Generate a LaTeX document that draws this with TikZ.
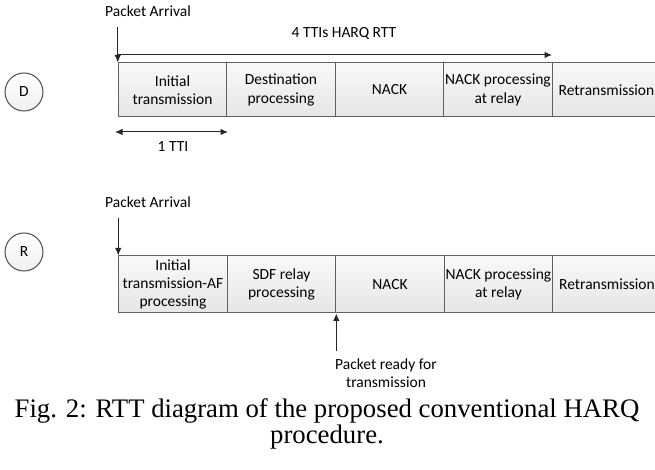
\documentclass[tikz,border=0pt]{standalone}
\usepackage{fontspec}
\setmainfont{Liberation Serif}
\newfontfamily\diagfont{Carlito}
\usetikzlibrary{arrows.meta}

\begin{document}
\begin{tikzpicture}[x=0.4pt, y=-0.4pt,
    slot/.style={draw=gray!75!black, top color=gray!5, bottom color=gray!20, minimum width=43.4pt, minimum height=21.6pt, inner sep=0pt, align=center, font=\diagfont\fontsize{6.2}{7.3}\selectfont},
    tall/.style={slot, minimum height=22.8pt},
    station/.style={circle, draw=gray!60!black, top color=white, bottom color=gray!12, minimum size=15.2pt, inner sep=0pt, font=\diagfont\fontsize{6.2}{7.3}\selectfont},
    lbl/.style={align=center, inner sep=0pt, font=\diagfont\fontsize{6.2}{7.3}\selectfont},
    arr/.style={draw=gray!30!black, line width=0.4pt, -{Latex[length=3pt,width=2.6pt]}},
    dbl/.style={draw=gray!30!black, line width=0.4pt, {Latex[length=3pt,width=2.6pt]}-{Latex[length=3pt,width=2.6pt]}}]

    % Frame
    \clip (0,0) rectangle (655,470);

    % Destination row
    \node[station] (stD) at (24,92) {D};
    \node[lbl] (arrivalD) at (148,11) {Packet Arrival};
    \node[lbl] (rtt) at (344,34) {4 TTIs HARQ RTT};

    \node[slot] (d1) at (172.5,90) {Initial\\transmission};
    \node[slot] (d2) at (281,90) {Destination\\processing};
    \node[slot] (d3) at (389.5,90) {NACK};
    \node[slot] (d4) at (498,90) {NACK processing\\at relay};
    \node[slot] (d5) at (606.5,90) {Retransmission};

    % Arrival and RTT arrows
    \coordinate (rttL) at (118,55);
    \coordinate (rttR) at (552,55);
    \draw[arr] (d1.north west |- arrivalD.south) ++(0,10) -- (d1.north west);
    \draw[arr] (rttL) -- (rttR);

    % One TTI
    \coordinate (ttiL) at (115,132);
    \coordinate (ttiR) at (228,132);
    \draw[dbl] (ttiL) -- (ttiR);
    \node[lbl] (tti) at (173,147) {1 TTI};

    % Relay row
    \node[station] (stR) at (24,252) {R};
    \node[lbl] (arrivalR) at (148,202) {Packet Arrival};

    \node[tall] (r1) at (173,284.5) {Initial\\transmission-AF\\processing};
    \node[tall] (r2) at (281.5,284.5) {SDF relay\\processing};
    \node[tall] (r3) at (390,284.5) {NACK};
    \node[tall] (r4) at (498.5,284.5) {NACK processing\\at relay};
    \node[tall] (r5) at (607,284.5) {Retransmission};

    \draw[arr] (r1.north west |- arrivalR.south) ++(0,10) -- (r1.north west);

    % Packet ready
    \node[lbl] (ready) at (386,373) {Packet ready for\\transmission};
    \draw[arr] (r2.south east |- ready.north) ++(0,-7) -- (r2.south east);

    % Caption
    \node[align=center, inner sep=0pt, font=\fontsize{10.7}{8.8}\selectfont] (caption) at (327,424) {Fig. 2: RTT diagram of the proposed conventional HARQ\\procedure.};

\end{tikzpicture}
\end{document}
